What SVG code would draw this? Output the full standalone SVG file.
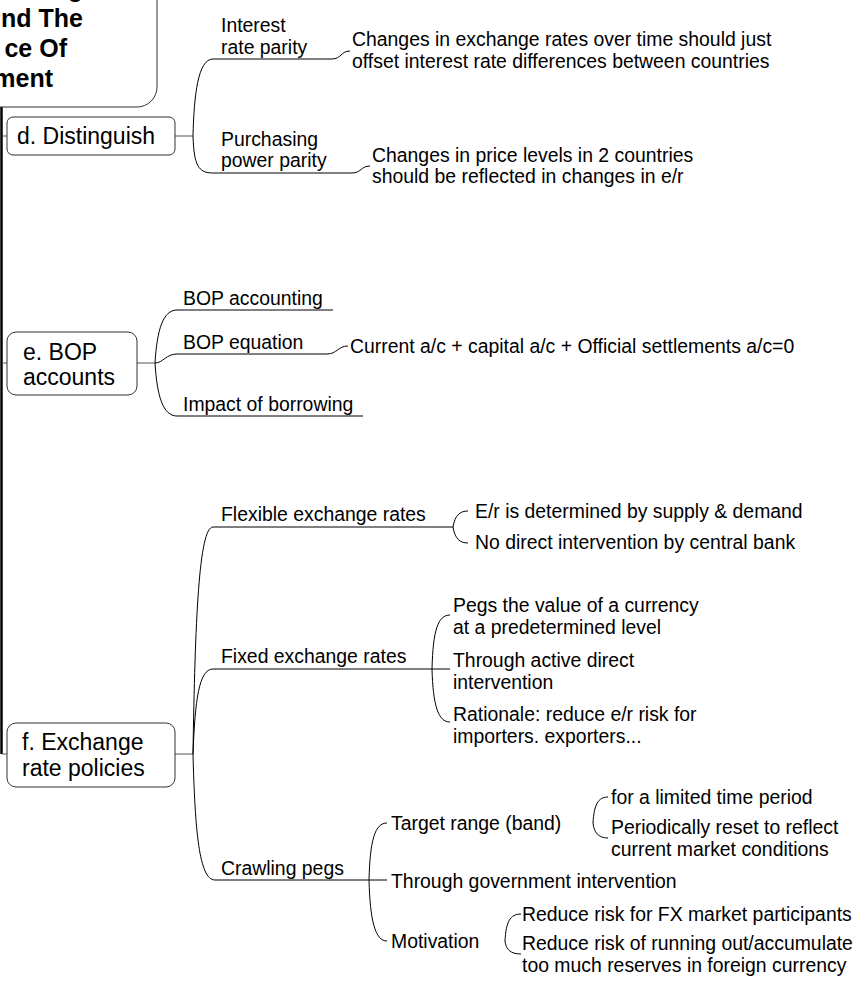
<svg xmlns="http://www.w3.org/2000/svg" width="858" height="984" viewBox="0 0 858 984">
<style>
text{font-family:"Liberation Sans",Arial,sans-serif;font-size:19.4px;fill:#000}
.b{font-size:23px}
.r{font-size:25px;font-weight:bold}
.ln{fill:none;stroke:#000;stroke-width:1}
.cn{fill:none;stroke:#555;stroke-width:1}
.box{fill:#fff;stroke:#333;stroke-width:1}
</style>
<rect width="858" height="984" fill="#fff"/>
<g id="connectors">
<line x1="1.5" y1="107" x2="1.5" y2="754" stroke="#000" stroke-width="2.5"/>
<path class="cn" d="M2,136H7M2,363H7M2,754H7"/>
<path class="cn" d="M175,136H193M137,363H155M175,754H193"/>
<path class="ln" d="M193,136C194,95 198,59 213,59H332C341,59 341,51 350,51"/>
<path class="ln" d="M193,136C194,165 198,173 213,173H352C361,173 361,166 370,166"/>
<path class="ln" d="M155,363C157,330 163,310 177,310H333"/>
<path class="ln" d="M155,363C163,363 166,354 177,354H327C337,354 338,346 348,346"/>
<path class="ln" d="M155,363C157,396 163,416 177,416H363"/>
<path class="ln" d="M193,754C195,620 199,527 213,527H453"/>
<path class="ln" d="M453,527C455,515 460,511 468,511M453,527C455,539 460,543 468,543"/>
<path class="ln" d="M193,754C195,700 199,669 213,669H450"/>
<path class="ln" d="M432,669C433,630 438,615 450,615M432,669C433,705 438,722 450,722"/>
<path class="ln" d="M193,754C195,830 199,880 215,880H387"/>
<path class="ln" d="M369,880C370,840 375,823 387,823M369,880C370,920 375,941 387,941"/>
<path class="ln" d="M593,823C594,805 598,797 608,797M593,823C594,832 598,838 608,838"/>
<path class="ln" d="M505,941C506,922 510,914 521,914M505,941C506,949 510,954 521,954"/>
</g>
<g id="root">
<rect class="box" x="-40" y="-40" width="197" height="147" rx="20"/>
<text class="r" x="83" y="-3" text-anchor="end">g</text>
<text class="r" x="83" y="27" text-anchor="end">nd The</text>
<text class="r" x="67" y="57" text-anchor="end">ce Of</text>
<text class="r" x="53" y="87" text-anchor="end">ment</text>
</g>
<g id="d-distinguish">
<rect class="box" x="7" y="117" width="168" height="38" rx="6"/>
<text class="b" x="17" y="144">d. Distinguish</text>
</g>
<g id="interest-rate-parity">
<text x="221" y="32">Interest</text>
<text x="221" y="54">rate parity</text>
</g>
<g id="irp-detail">
<text x="352" y="46">Changes in exchange rates over time should just</text>
<text x="352" y="68">offset interest rate differences between countries</text>
</g>
<g id="purchasing-power-parity">
<text x="221" y="146">Purchasing</text>
<text x="221" y="167">power parity</text>
</g>
<g id="ppp-detail">
<text x="372" y="162">Changes in price levels in 2 countries</text>
<text x="372" y="183">should be reflected in changes in e/r</text>
</g>
<g id="e-bop">
<rect class="box" x="7" y="332" width="130" height="63" rx="9"/>
<text class="b" x="23" y="360">e. BOP</text>
<text class="b" x="23" y="385">accounts</text>
</g>
<g id="bop-accounting"><text x="183" y="305">BOP accounting</text></g>
<g id="bop-equation"><text x="183" y="349">BOP equation</text></g>
<g id="bop-equation-detail"><text x="350" y="353">Current a/c + capital a/c + Official settlements a/c=0</text></g>
<g id="impact-borrowing"><text x="183" y="411">Impact of borrowing</text></g>
<g id="f-exchange">
<rect class="box" x="7" y="723" width="168" height="64" rx="9"/>
<text class="b" x="22" y="750">f. Exchange</text>
<text class="b" x="22" y="776">rate policies</text>
</g>
<g id="flexible"><text x="221" y="521">Flexible exchange rates</text></g>
<g id="flex-1"><text x="475" y="518">E/r is determined by supply &amp; demand</text></g>
<g id="flex-2"><text x="475" y="549">No direct intervention by central bank</text></g>
<g id="fixed"><text x="221" y="663">Fixed exchange rates</text></g>
<g id="fixed-1"><text x="453" y="612">Pegs the value of a currency</text><text x="453" y="634">at a predetermined level</text></g>
<g id="fixed-2"><text x="453" y="667">Through active direct</text><text x="453" y="689">intervention</text></g>
<g id="fixed-3"><text x="453" y="721">Rationale: reduce e/r risk for</text><text x="453" y="743">importers. exporters...</text></g>
<g id="crawling"><text x="221" y="875">Crawling pegs</text></g>
<g id="target-range"><text x="391" y="830">Target range (band)</text></g>
<g id="target-1"><text x="611" y="804">for a limited time period</text></g>
<g id="target-2"><text x="611" y="834">Periodically reset to reflect</text><text x="611" y="856">current market conditions</text></g>
<g id="gov-intervention"><text x="391" y="888">Through government intervention</text></g>
<g id="motivation"><text x="391" y="948">Motivation</text></g>
<g id="motivation-1"><text x="522" y="921">Reduce risk for FX market participants</text></g>
<g id="motivation-2"><text x="522" y="950">Reduce risk of running out/accumulate</text><text x="522" y="972">too much reserves in foreign currency</text></g>
</svg>
